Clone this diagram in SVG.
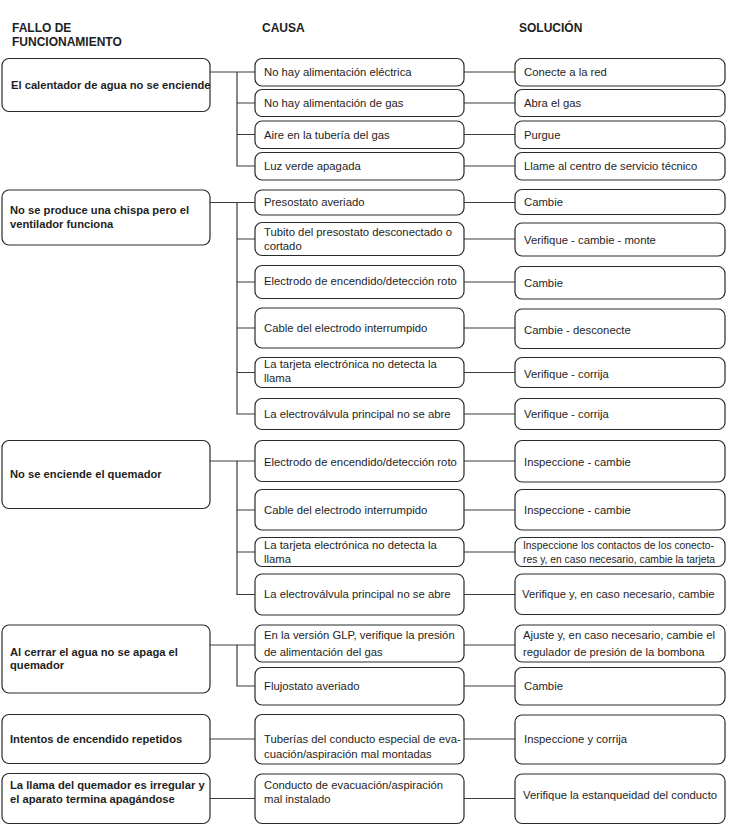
<svg xmlns="http://www.w3.org/2000/svg" width="749" height="832" viewBox="0 0 749 832">
<style>
.b{fill:#fff;stroke:#2a2a2a;stroke-width:1.2}
.c{fill:none;stroke:#3a3a3a;stroke-width:1.2}
text{font-family:"Liberation Sans",Arial,sans-serif;fill:#1e1e1e}
.h{font-size:12px;font-weight:bold}
.f{font-size:11.2px;font-weight:bold}
.t{font-size:11.3px}
.s{font-size:10.6px}
</style>
<rect width="749" height="832" fill="#fff"/>
<g id="headers">
<text class="h" x="12" y="32">FALLO DE</text>
<text class="h" x="12" y="46">FUNCIONAMIENTO</text>
<text class="h" x="262" y="32">CAUSA</text>
<text class="h" x="519" y="32">SOLUCIÓN</text>
</g>
<g id="connectors">
<path class="c" d="M210,72H255M237,72V166H255M237,103H255M237,134.5H255"/>
<path class="c" d="M464,72H515M464,103H515M464,134.5H515M464,166H515"/>
<path class="c" d="M210,202.5H255M237,202.5V414H255M237,239H255M237,282H255M237,328H255M237,372.5H255"/>
<path class="c" d="M464,202.5H515M464,239H515M464,282H515M464,328H515M464,372.5H515M464,414H515"/>
<path class="c" d="M210,461H255M237,461V594.5H255M237,510H255M237,552H255"/>
<path class="c" d="M464,461H515M464,510H515M464,552H515M464,594.5H515"/>
<path class="c" d="M210,645H255M237,645V686H255"/>
<path class="c" d="M464,645H515M464,686H515"/>
<path class="c" d="M210,739H255M464,739H515"/>
<path class="c" d="M210,798.5H255M464,798.5H515"/>
</g>
<g id="f1"><rect class="b" x="2" y="58.5" width="208" height="53" rx="7"/><text class="f" x="11" y="89">El calentador de agua no se enciende</text></g>
<g id="c1a"><rect class="b" x="255" y="58.5" width="209" height="27.5" rx="7"/><text class="t" x="264" y="76">No hay alimentación eléctrica</text></g>
<g id="c1b"><rect class="b" x="255" y="89.5" width="209" height="27" rx="7"/><text class="t" x="264" y="107">No hay alimentación de gas</text></g>
<g id="c1c"><rect class="b" x="255" y="121" width="209" height="27.5" rx="7"/><text class="t" x="264" y="139">Aire en la tubería del gas</text></g>
<g id="c1d"><rect class="b" x="255" y="152.5" width="209" height="27.5" rx="7"/><text class="t" x="264" y="170">Luz verde apagada</text></g>
<g id="s1a"><rect class="b" x="515" y="58.5" width="210" height="27.5" rx="7"/><text class="t" x="524" y="76">Conecte a la red</text></g>
<g id="s1b"><rect class="b" x="515" y="89.5" width="210" height="27" rx="7"/><text class="t" x="524" y="107">Abra el gas</text></g>
<g id="s1c"><rect class="b" x="515" y="121" width="210" height="27.5" rx="7"/><text class="t" x="524" y="139">Purgue</text></g>
<g id="s1d"><rect class="b" x="515" y="152.5" width="210" height="27.5" rx="7"/><text class="t" x="524" y="170">Llame al centro de servicio técnico</text></g>

<g id="f2"><rect class="b" x="2" y="190" width="208" height="55" rx="7"/><text class="f" x="10" y="214">No se produce una chispa pero el</text><text class="f" x="10" y="228">ventilador funciona</text></g>
<g id="c2a"><rect class="b" x="255" y="190" width="209" height="25" rx="7"/><text class="t" x="264" y="206">Presostato averiado</text></g>
<g id="c2b"><rect class="b" x="255" y="222.5" width="209" height="33" rx="7"/><text class="t" x="264" y="236">Tubito del presostato desconectado o</text><text class="t" x="264" y="250">cortado</text></g>
<g id="c2c"><rect class="b" x="255" y="265.5" width="209" height="33" rx="7"/><text class="t" x="264" y="285">Electrodo de encendido/detección roto</text></g>
<g id="c2d"><rect class="b" x="255" y="308" width="209" height="40" rx="7"/><text class="t" x="264" y="331.5">Cable del electrodo interrumpido</text></g>
<g id="c2e"><rect class="b" x="255" y="357.5" width="209" height="30" rx="7"/><text class="t" x="264" y="368">La tarjeta electrónica no detecta la</text><text class="t" x="264" y="382">llama</text></g>
<g id="c2f"><rect class="b" x="255" y="398.5" width="209" height="31" rx="7"/><text class="t" x="264" y="418">La electroválvula principal no se abre</text></g>
<g id="s2a"><rect class="b" x="515" y="189.5" width="210" height="25" rx="7"/><text class="t" x="524" y="206">Cambie</text></g>
<g id="s2b"><rect class="b" x="515" y="223" width="210" height="33" rx="7"/><text class="t" x="524" y="243.5">Verifique - cambie - monte</text></g>
<g id="s2c"><rect class="b" x="515" y="266.5" width="210" height="32.5" rx="7"/><text class="t" x="524" y="287">Cambie</text></g>
<g id="s2d"><rect class="b" x="515" y="309" width="210" height="39.5" rx="7"/><text class="t" x="524" y="334">Cambie - desconecte</text></g>
<g id="s2e"><rect class="b" x="515" y="357.5" width="210" height="30" rx="7"/><text class="t" x="524" y="377.5">Verifique - corrija</text></g>
<g id="s2f"><rect class="b" x="515" y="398.5" width="210" height="31" rx="7"/><text class="t" x="524" y="418">Verifique - corrija</text></g>

<g id="f3"><rect class="b" x="2" y="440.5" width="208" height="68" rx="7"/><text class="f" x="10" y="478">No se enciende el quemador</text></g>
<g id="c3a"><rect class="b" x="255" y="440.5" width="209" height="41" rx="7"/><text class="t" x="264" y="466">Electrodo de encendido/detección roto</text></g>
<g id="c3b"><rect class="b" x="255" y="489.5" width="209" height="40.5" rx="7"/><text class="t" x="264" y="514">Cable del electrodo interrumpido</text></g>
<g id="c3c"><rect class="b" x="255" y="537.5" width="209" height="29" rx="7"/><text class="t" x="264" y="549">La tarjeta electrónica no detecta la</text><text class="t" x="264" y="562.5">llama</text></g>
<g id="c3d"><rect class="b" x="255" y="574" width="209" height="41" rx="7"/><text class="t" x="264" y="598">La electroválvula principal no se abre</text></g>
<g id="s3a"><rect class="b" x="515" y="440.5" width="210" height="41.5" rx="7"/><text class="t" x="524" y="466">Inspeccione - cambie</text></g>
<g id="s3b"><rect class="b" x="515" y="489.5" width="210" height="40.5" rx="7"/><text class="t" x="524" y="514">Inspeccione - cambie</text></g>
<g id="s3c"><rect class="b" x="515" y="537.5" width="210" height="29" rx="7"/><text class="s" x="523" y="549" textLength="191" lengthAdjust="spacingAndGlyphs">Inspeccione los contactos de los conecto-</text><text class="s" x="523" y="562.5" textLength="192" lengthAdjust="spacingAndGlyphs">res y, en caso necesario, cambie la tarjeta</text></g>
<g id="s3d"><rect class="b" x="515" y="574" width="210" height="40.5" rx="7"/><text class="t" x="522" y="598">Verifique y, en caso necesario, cambie</text></g>

<g id="f4"><rect class="b" x="2" y="625" width="208" height="68" rx="7"/><text class="f" x="10" y="656">Al cerrar el agua no se apaga el</text><text class="f" x="10" y="669">quemador</text></g>
<g id="c4a"><rect class="b" x="255" y="625" width="209" height="37" rx="7"/><text class="t" x="264" y="639">En la versión GLP, verifique la presión</text><text class="t" x="264" y="656">de alimentación del gas</text></g>
<g id="c4b"><rect class="b" x="255" y="667.5" width="209" height="37.5" rx="7"/><text class="t" x="264" y="690">Flujostato averiado</text></g>
<g id="s4a"><rect class="b" x="515" y="625" width="210" height="37" rx="7"/><text class="t" x="523" y="639">Ajuste y, en caso necesario, cambie el</text><text class="t" x="523" y="656">regulador de presión de la bombona</text></g>
<g id="s4b"><rect class="b" x="515" y="667.5" width="210" height="37.5" rx="7"/><text class="t" x="524" y="690">Cambie</text></g>

<g id="f5"><rect class="b" x="2" y="714.5" width="208" height="49" rx="7"/><text class="f" x="10" y="743">Intentos de encendido repetidos</text></g>
<g id="c5"><rect class="b" x="255" y="714.5" width="209" height="49.5" rx="7"/><text class="t" x="264" y="743">Tuberías del conducto especial de eva-</text><text class="t" x="264" y="758">cuación/aspiración mal montadas</text></g>
<g id="s5"><rect class="b" x="515" y="715" width="210" height="49" rx="7"/><text class="t" x="524" y="743">Inspeccione y corrija</text></g>

<g id="f6"><rect class="b" x="2" y="773.5" width="208" height="50" rx="7"/><text class="f" x="10" y="789">La llama del quemador es irregular y</text><text class="f" x="10" y="803">el aparato termina apagándose</text></g>
<g id="c6"><rect class="b" x="255" y="774" width="209" height="49.5" rx="7"/><text class="t" x="264" y="789">Conducto de evacuación/aspiración</text><text class="t" x="264" y="803">mal instalado</text></g>
<g id="s6"><rect class="b" x="515" y="774" width="210" height="49.5" rx="7"/><text class="t" x="523" y="799">Verifique la estanqueidad del conducto</text></g>
</svg>
